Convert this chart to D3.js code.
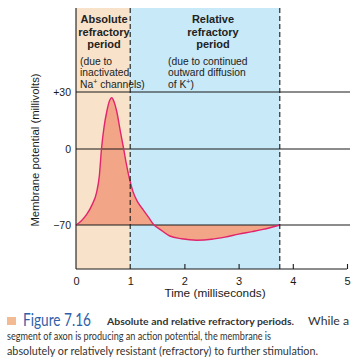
<!DOCTYPE html>
<html><head><meta charset="utf-8">
<script src="https://cdn.jsdelivr.net/npm/d3@7"></script>
<style>html,body{margin:0;padding:0;background:#fff;}svg{display:block;}</style>
</head><body>
<svg id="chart" width="356" height="363"></svg>
<script>
// ---- data ----
const timeMs = [0, 0.1, 0.2, 0.3, 0.38, 0.43, 0.47, 0.52, 0.57, 0.62, 0.66, 0.7, 0.75, 0.82, 0.88, 0.93, 0.98, 1.05, 1.14, 1.24, 1.34, 1.44, 1.55, 1.73, 1.95, 2.23, 2.5, 2.75, 3.0, 3.25, 3.45, 3.76];
const potentialMv = [-70, -66, -60, -51, -40, -25, 0, 12, 20, 25.5, 27, 25, 20, 9, 0, -14, -26, -39, -49, -56, -63, -70, -74, -80, -82.5, -83.8, -83, -81, -78.3, -76, -74, -70];
const xTicks = [0, 1, 2, 3, 4, 5];
const yTicks = [30, 0, -70];
const yTickLabels = ["+30", "0", "\u221270"];
const periodBounds = [0, 1, 3.76];
const periodTitles = [["Absolute", "refractory", "period"], ["Relative", "refractory", "period"]];
const periodNotes = [["(due to", "inactivated", "Na|+| channels)"], ["(due to continued", "outward diffusion", "of K|+|)"]];
const xTitle = "Time (milliseconds)";
const yTitle = "Membrane potential (millivolts)";
const captionLines = [
  "segment of axon is producing an action potential, the membrane is",
  "absolutely or relatively resistant (refractory) to further stimulation."
];

// ---- layout ----
const svg = d3.select("#chart");
const x = d3.scaleLinear().domain([0, 5]).range([76, 347]);
const y = d3.scaleLinear().domain([-110, -70, 0, 30, 74]).range([269, 225, 149, 92, 8]);
const FONT = "'Liberation Sans', Arial, sans-serif";
const ink = "#1a1a1a";

// background panels
const panelColors = ["#f8e3ca", "#c7e9f8"];
svg.selectAll("rect.panel").data([0, 1]).enter().append("rect")
  .attr("x", i => x(periodBounds[i]))
  .attr("y", y(74))
  .attr("width", i => x(periodBounds[i + 1]) - x(periodBounds[i]))
  .attr("height", y(-110) - y(74))
  .attr("fill", i => panelColors[i]);

// area fill
const pts = timeMs.map((t, i) => [t, potentialMv[i]]);
svg.append("path").datum(pts)
  .attr("d", d3.area().x(d => x(d[0])).y0(y(-70)).y1(d => y(d[1])).curve(d3.curveMonotoneX))
  .attr("fill", "#f2a587");

// horizontal reference lines
svg.selectAll("line.h").data(yTicks).enter().append("line")
  .attr("x1", x(0)).attr("x2", 350)
  .attr("y1", d => y(d)).attr("y2", d => y(d))
  .attr("stroke", ink).attr("stroke-width", 1.1);

// curve
svg.append("path").datum(pts)
  .attr("d", d3.line().x(d => x(d[0])).y(d => y(d[1])).curve(d3.curveMonotoneX))
  .attr("fill", "none").attr("stroke", "#e2246c").attr("stroke-width", 1.4);

// dashed period boundaries
svg.selectAll("line.dash").data(periodBounds.slice(1)).enter().append("line")
  .attr("x1", d => x(d)).attr("x2", d => x(d))
  .attr("y1", y(74)).attr("y2", y(-110))
  .attr("stroke", ink).attr("stroke-width", 1.1).attr("stroke-dasharray", "5,3");

// axes
const xAxis = svg.append("g").attr("transform", `translate(0,${y(-110)})`)
  .call(d3.axisBottom(x).tickValues(xTicks).tickSize(-5).tickPadding(8).tickFormat(d3.format("d")));
xAxis.select(".domain").attr("stroke", ink).attr("stroke-width", 1.1).attr("d", `M${x(0)},0H${x(5)}`);
xAxis.selectAll(".tick line").attr("stroke", ink).attr("stroke-width", 1.1).filter(d => d === 0 || d === 1).remove();
xAxis.selectAll(".tick text").attr("font-family", FONT).attr("font-size", 11).attr("fill", ink);

const yAxis = svg.append("g").attr("transform", `translate(${x(0)},0)`)
  .call(d3.axisLeft(y).tickValues(yTicks).tickSize(0).tickPadding(5).tickFormat((d, i) => yTickLabels[i]));
yAxis.select(".domain").attr("stroke", ink).attr("stroke-width", 1.1).attr("d", `M0,${y(74)}V${y(-110)}`);
yAxis.selectAll(".tick text").attr("font-family", FONT).attr("font-size", 10.5).attr("fill", ink);

// axis titles
svg.append("text").attr("x", 215).attr("y", 297).attr("text-anchor", "middle")
  .attr("font-family", FONT).attr("font-size", 11.8).attr("fill", ink).text(xTitle);
svg.append("text").attr("transform", "translate(39,150) rotate(-90)").attr("text-anchor", "middle")
  .attr("font-family", FONT).attr("font-size", 11.3).attr("fill", ink).text(yTitle);

// period headings
const titleCx = [104, 213];
periodTitles.forEach((lines, i) => {
  lines.forEach((s, j) => {
    svg.append("text").attr("x", titleCx[i]).attr("y", 23 + j * 12.6).attr("text-anchor", "middle")
      .attr("font-family", FONT).attr("font-size", 11).attr("font-weight", "bold").attr("fill", "#222").text(s);
  });
});
const noteX = [80, 168];
periodNotes.forEach((lines, i) => {
  lines.forEach((s, j) => {
    const t = svg.append("text").attr("x", noteX[i]).attr("y", 64.5 + j * 11.7)
      .attr("font-family", FONT).attr("font-size", 10.3).attr("fill", "#222");
    s.split("|").forEach((part, k) => {
      if (k === 1) t.append("tspan").attr("dy", -4).attr("font-size", 7).text(part);
      else if (k === 2) t.append("tspan").attr("dy", 4).text(part);
      else t.append("tspan").text(part);
    });
  });
});

// caption
const CAP = "Lato, 'Open Sans', sans-serif";
svg.append("rect").attr("x", 7).attr("y", 317).attr("width", 9).attr("height", 8).attr("fill", "#f3bb93");
svg.append("text").attr("x", 23).attr("y", 326).attr("font-family", CAP).attr("font-size", 18)
  .attr("fill", "#2f5fa8").attr("textLength", 68).attr("lengthAdjust", "spacingAndGlyphs").text("Figure 7.16");
svg.append("text").attr("x", 107).attr("y", 325).attr("font-family", CAP).attr("font-size", 10.2)
  .attr("font-weight", "bold").attr("fill", "#333").attr("textLength", 187).attr("lengthAdjust", "spacingAndGlyphs")
  .text("Absolute and relative refractory periods.");
svg.append("text").attr("x", 308).attr("y", 325).attr("font-family", CAP).attr("font-size", 11.5)
  .attr("fill", "#333").attr("textLength", 41).attr("lengthAdjust", "spacingAndGlyphs").text("While a");
const capW = [264, 311];
captionLines.forEach((s, i) => {
  svg.append("text").attr("x", 7).attr("y", 340 + i * 14.5).attr("font-family", CAP).attr("font-size", 11.5)
    .attr("fill", "#333").attr("textLength", capW[i]).attr("lengthAdjust", "spacingAndGlyphs").text(s);
});
</script>
</body></html>
